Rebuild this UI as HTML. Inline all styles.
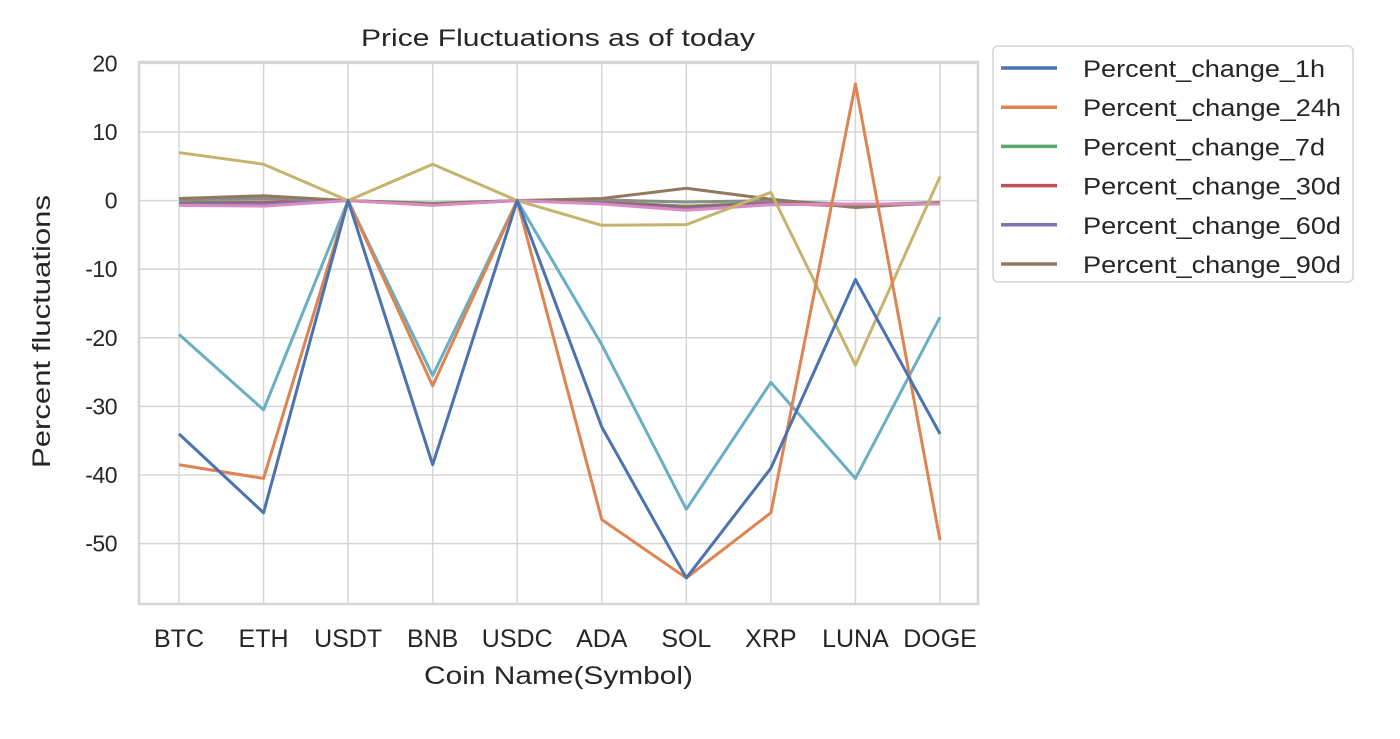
<!DOCTYPE html>
<html><head><meta charset="utf-8"><style>
body{margin:0;background:#fff;}
svg text{font-family:"Liberation Sans",sans-serif;fill:#262626;}
</style></head><body>
<svg id="chart" width="1400" height="734" xmlns="http://www.w3.org/2000/svg"></svg>
<script>
const categories=["BTC","ETH","USDT","BNB","USDC","ADA","SOL","XRP","LUNA","DOGE"];
const legendLabels=["Percent_change_1h","Percent_change_24h","Percent_change_7d","Percent_change_30d","Percent_change_60d","Percent_change_90d"];
const s1h=[-34,-45.5,0,-38.5,0,-33,-55,-39,-11.5,-34];
const s24h=[-38.5,-40.5,0,-27,0,-46.5,-55,-45.5,17,-49.5];
const s7d=[-0.3,-0.2,0,-0.4,0,-0.2,-0.8,-0.3,-0.7,-0.4];
const s30d=[-0.4,-0.3,0,-0.5,0,-0.3,-1,-0.4,-0.8,-0.4];
const s60d=[-0.5,-0.5,0,-0.6,0,-0.4,-1.2,-0.5,-0.6,-0.5];
const s90d=[0.3,0.7,0,-0.5,0,0.3,1.8,0.2,-1,-0.3];
const sPink=[-0.7,-0.8,0,-0.7,0,-0.5,-1.4,-0.6,-0.5,-0.5];
const sGrey=[0.1,0.3,0,-0.6,0,0.1,-0.2,0,-0.6,-0.3];
const sOlive=[7,5.3,0,5.3,0,-3.6,-3.5,1.2,-24,3.5];
const sTeal=[-19.5,-30.5,0,-25.5,0,-21,-45,-26.5,-40.5,-17];
const yTicks=[20,10,0,-10,-20,-30,-40,-50];
const NS="http://www.w3.org/2000/svg";
const svg=document.getElementById('chart');
const L=139,R=978,T=62,B=604,yMin=-58.8,yMax=20.2;
const x=i=>179+i*(940-179)/(categories.length-1);
const y=v=>T+(yMax-v)/(yMax-yMin)*(B-T);
function el(t,a,p){const e=document.createElementNS(NS,t);for(const k in a)e.setAttribute(k,a[k]);(p||svg).appendChild(e);return e;}
yTicks.forEach(v=>{const g=el('line',{x1:L,x2:R,y1:y(v),y2:y(v),stroke:'#d5d5d5','stroke-width':1.5});


const t=el('text',{x:L-22,y:y(v)+8,'text-anchor':'end','font-size':23,'letter-spacing':'-0.5'});t.textContent=v;

});
categories.forEach((c,i)=>{const g=el('line',{x1:x(i),x2:x(i),y1:T,y2:B,stroke:'#d5d5d5','stroke-width':1.5});


const t=el('text',{x:x(i),y:647,'text-anchor':'middle','font-size':25});t.textContent=c;

});
const fr=el('rect',{x:L,y:T,width:R-L,height:B-T,fill:'none',stroke:'#d5d5d5','stroke-width':2.5});


const series=[[s7d,'#55a868','line-7d'],[s30d,'#c44e52','line-30d'],[s60d,'#8172b3','line-60d'],[sGrey,'#8c8c8c','line-grey'],[s90d,'#937860','line-90d'],[sPink,'#da8bc3','line-pink'],[sOlive,'#c4b46c','line-olive'],[sTeal,'#6aaec4','line-teal'],[s24h,'#dd8452','line-24h'],[s1h,'#4c72b0','line-1h']];
series.forEach(([d,c,n])=>{const p=el('polyline',{points:d.map((v,i)=>x(i)+','+y(v)).join(' '),fill:'none',stroke:c,'stroke-width':3,'stroke-linejoin':'round'});

});
const ti=el('text',{x:361,y:46,'font-size':24,textLength:394,lengthAdjust:'spacingAndGlyphs'});ti.textContent='Price Fluctuations as of today';


const xl=el('text',{x:424,y:684,'font-size':25,textLength:269,lengthAdjust:'spacingAndGlyphs'});xl.textContent='Coin Name(Symbol)';


const yl=el('text',{x:0,y:0,'font-size':25,textLength:273,lengthAdjust:'spacingAndGlyphs',transform:'translate(50 468) rotate(-90)'});yl.textContent='Percent fluctuations';


const lg=el('rect',{x:993,y:46,width:360,height:236,rx:5,fill:'#fff',stroke:'#d5d5d5','stroke-width':1.5});


const lc=['#4c72b0','#dd8452','#55a868','#c44e52','#8172b3','#937860'];
const lw=[242,258,242,258,258,258];
legendLabels.forEach((s,i)=>{const yy=68+i*39.2;
const ln=el('line',{x1:1001,x2:1057,y1:yy,y2:yy,stroke:lc[i],'stroke-width':3.5});


const t=el('text',{x:1083,y:yy+9,'font-size':24,textLength:lw[i],lengthAdjust:'spacingAndGlyphs'});t.textContent=s;

});
</script>
</body></html>
